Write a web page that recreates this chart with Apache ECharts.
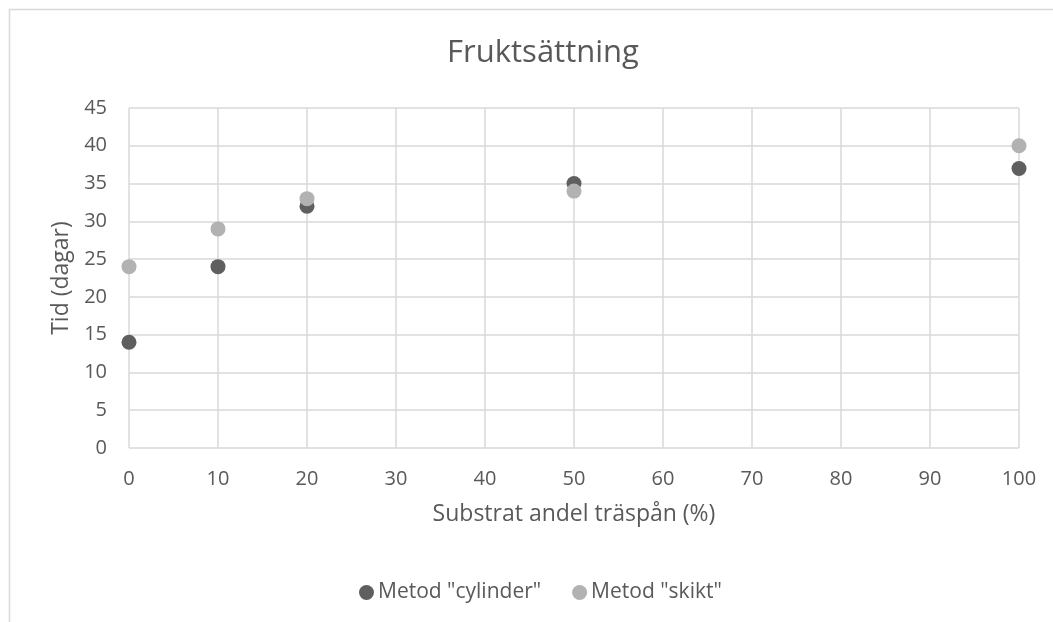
<!DOCTYPE html>
<html>
<head>
<meta charset="utf-8">
<script src="https://cdn.jsdelivr.net/npm/echarts@6/dist/echarts.min.js"></script>
<style>
  html, body { margin: 0; padding: 0; background: #fff; }
  #chart { width: 1053px; height: 622px; }
</style>
</head>
<body>
<div id="chart"></div>
<script>
// data
var xValues = [0, 10, 20, 50, 100];
var cylinder = [14, 24, 32, 35, 37];
var skikt = [24, 29, 33, 34, 40];
var seriesNames = ['Metod "cylinder"', 'Metod "skikt"'];

function pairs(ys) {
  var out = [];
  for (var i = 0; i < xValues.length; i++) {
    out.push([xValues[i], ys[i]]);
  }
  return out;
}

var font = "'Open Sans', 'Noto Sans', sans-serif";
var chart = echarts.init(document.getElementById('chart'));
chart.setOption({
  animation: false,
  title: {
    text: 'Fruktsättning',
    left: 538,
    textAlign: 'center',
    top: 33,
    textStyle: { fontFamily: font, fontSize: 31, fontWeight: 'normal', color: '#595959' }
  },
  graphic: [{
    type: 'rect',
    shape: { x: 9.5, y: 9.5, width: 1200, height: 800 },
    style: { fill: 'none', stroke: '#d9d9d9', lineWidth: 1.5 },
    silent: true
  }],
  grid: { left: 129, top: 108, right: 34, bottom: 174 },
  xAxis: {
    type: 'value',
    min: 0, max: 100, interval: 10,
    name: 'Substrat andel träspån (%)',
    nameLocation: 'middle',
    nameGap: 55,
    nameTextStyle: { fontFamily: font, fontSize: 23, color: '#595959' },
    axisLine: { show: false },
    axisTick: { show: false },
    axisLabel: { fontFamily: font, fontSize: 20, color: '#595959', margin: 21 },
    splitLine: { show: true, lineStyle: { color: '#d9d9d9', width: 1.5 } }
  },
  yAxis: {
    type: 'value',
    min: 0, max: 45, interval: 5,
    name: 'Tid (dagar)',
    nameLocation: 'middle',
    nameGap: 55,
    nameTextStyle: { fontFamily: font, fontSize: 23, color: '#595959' },
    axisLine: { show: false },
    axisTick: { show: false },
    axisLabel: { fontFamily: font, fontSize: 20, color: '#595959', margin: 22 },
    splitLine: { show: true, lineStyle: { color: '#d9d9d9', width: 1.5 } }
  },
  legend: {
    top: 577,
    left: 354,
    itemWidth: 15,
    itemHeight: 15,
    itemGap: 31,
    icon: 'circle',
    textStyle: { fontFamily: font, fontSize: 21, color: '#595959', padding: [0, 0, 0, -1] },
    data: seriesNames
  },
  series: [
    {
      name: seriesNames[0],
      type: 'scatter',
      symbolSize: 15,
      itemStyle: { color: '#5f5f5f', opacity: 1 },
      data: pairs(cylinder)
    },
    {
      name: seriesNames[1],
      type: 'scatter',
      symbolSize: 15,
      itemStyle: { color: '#b2b2b2', opacity: 1 },
      data: pairs(skikt)
    }
  ]
});
</script>
</body>
</html>
